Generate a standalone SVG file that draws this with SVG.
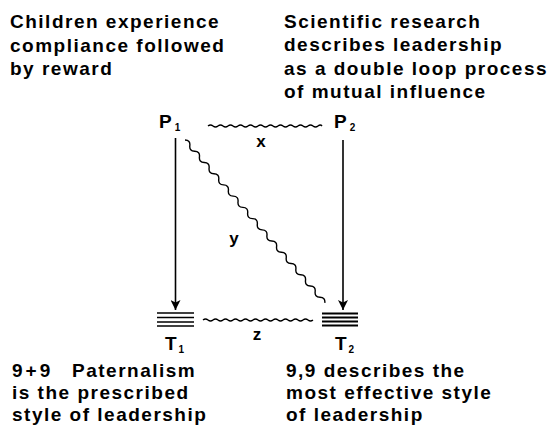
<svg xmlns="http://www.w3.org/2000/svg" width="549" height="427" viewBox="0 0 549 427">
<defs>
<style>
.t{font-family:"Liberation Sans",Arial,sans-serif;font-weight:bold;font-size:19px;letter-spacing:1.5px;fill:#000}
.lab{font-family:"Liberation Sans",Arial,sans-serif;font-weight:bold;font-size:19px;fill:#000}
.sub{font-size:10px}
.ln{stroke:#000;stroke-width:1.6;fill:none}
.wv{stroke:#000;stroke-width:1.4;fill:none}
</style>
<marker id="ah" markerWidth="10" markerHeight="10" viewBox="0 0 10 10" refX="10" refY="5" orient="auto" markerUnits="userSpaceOnUse">
<path d="M0,0 L10,5 L0,10 L2.5,5 Z" fill="#000"/>
</marker>
</defs>
<rect width="549" height="427" fill="#fff"/>
<g id="text-top-left">
<text class="t" x="10" y="28">Children experience</text>
<text class="t" x="10" y="52">compliance followed</text>
<text class="t" x="10" y="75">by reward</text>
</g>
<g id="text-top-right">
<text class="t" x="284" y="28">Scientific research</text>
<text class="t" x="284" y="51">describes leadership</text>
<text class="t" x="284" y="75">as a double loop process</text>
<text class="t" x="284" y="98">of mutual influence</text>
</g>
<g id="text-bottom-left">
<text class="t" x="12" y="377"><tspan style="letter-spacing:3px">9+9</tspan><tspan x="72">Paternalism</tspan></text>
<text class="t" x="12" y="399">is the prescribed</text>
<text class="t" x="12" y="421">style of leadership</text>
</g>
<g id="text-bottom-right">
<text class="t" x="286" y="377">9,9 describes the</text>
<text class="t" x="286" y="399">most effective style</text>
<text class="t" x="286" y="421">of leadership</text>
</g>
<g id="node-P1"><text class="lab" x="159" y="128">P<tspan class="sub" dx="3" dy="3">1</tspan></text></g>
<g id="node-P2"><text class="lab" x="334" y="128">P<tspan class="sub" dx="3" dy="3">2</tspan></text></g>
<g id="node-T1">
<g class="ln" style="stroke-width:1.3">
<line x1="157" y1="313" x2="194" y2="313"/>
<line x1="157" y1="317.5" x2="194" y2="317.5"/>
<line x1="157" y1="322" x2="194" y2="322"/>
<line x1="157" y1="326" x2="194" y2="326"/>
</g>
<text class="lab" x="165" y="350">T<tspan class="sub" dx="2" dy="3">1</tspan></text>
</g>
<g id="node-T2">
<g class="ln" style="stroke-width:2.2">
<line x1="322" y1="313.5" x2="358" y2="313.5"/>
<line x1="322" y1="317.5" x2="358" y2="317.5"/>
<line x1="322" y1="321.5" x2="358" y2="321.5"/>
<line x1="322" y1="325.5" x2="358" y2="325.5"/>
</g>
<text class="lab" x="335" y="350">T<tspan class="sub" dx="2" dy="3">2</tspan></text>
</g>
<g id="connectors">
<line class="ln" x1="175.5" y1="138" x2="175.5" y2="310" marker-end="url(#ah)"/>
<line class="ln" x1="343" y1="140" x2="343" y2="310" marker-end="url(#ah)"/>
<path class="wv" transform="translate(208,126)" d="M0,0 q2.5,-2 5,0 t5,0 t5,0 t5,0 t5,0 t5,0 t5,0 t5,0 t5,0 t5,0 t5,0 t5,0 t5,0 t5,0 t5,0 t5,0 t5,0 t5,0 t5,0 t5,0 t5,0 t5,0 t4,0"/>
<path class="wv" transform="translate(203,320)" d="M0,0 q2.5,-2 5,0 t5,0 t5,0 t5,0 t5,0 t5,0 t5,0 t5,0 t5,0 t5,0 t5,0 t5,0 t5,0 t5,0 t5,0 t5,0 t5,0 t5,0 t5,0 t5,0 t5,0 t5,0"/>
<path class="wv" transform="translate(185,140) rotate(49.35)" d="M0,0 q3.7,-4 7.4,0 t7.4,0 t7.4,0 t7.4,0 t7.4,0 t7.4,0 t7.4,0 t7.4,0 t7.4,0 t7.4,0 t7.4,0 t7.4,0 t7.4,0 t7.4,0 t7.4,0 t7.4,0 t7.4,0 t7.4,0 t7.4,0 t7.4,0 t7.4,0 t7.4,0 t7.4,0 t7.4,0 t7.4,0 t7.4,0 t7.4,0 t7.4,0 t7.4,0"/>
<text class="lab" x="261" y="147" text-anchor="middle" style="font-size:17px">x</text>
<text class="lab" x="234" y="244" text-anchor="middle" style="font-size:17px">y</text>
<text class="lab" x="257" y="340" text-anchor="middle" style="font-size:17px">z</text>
</g>
</svg>
